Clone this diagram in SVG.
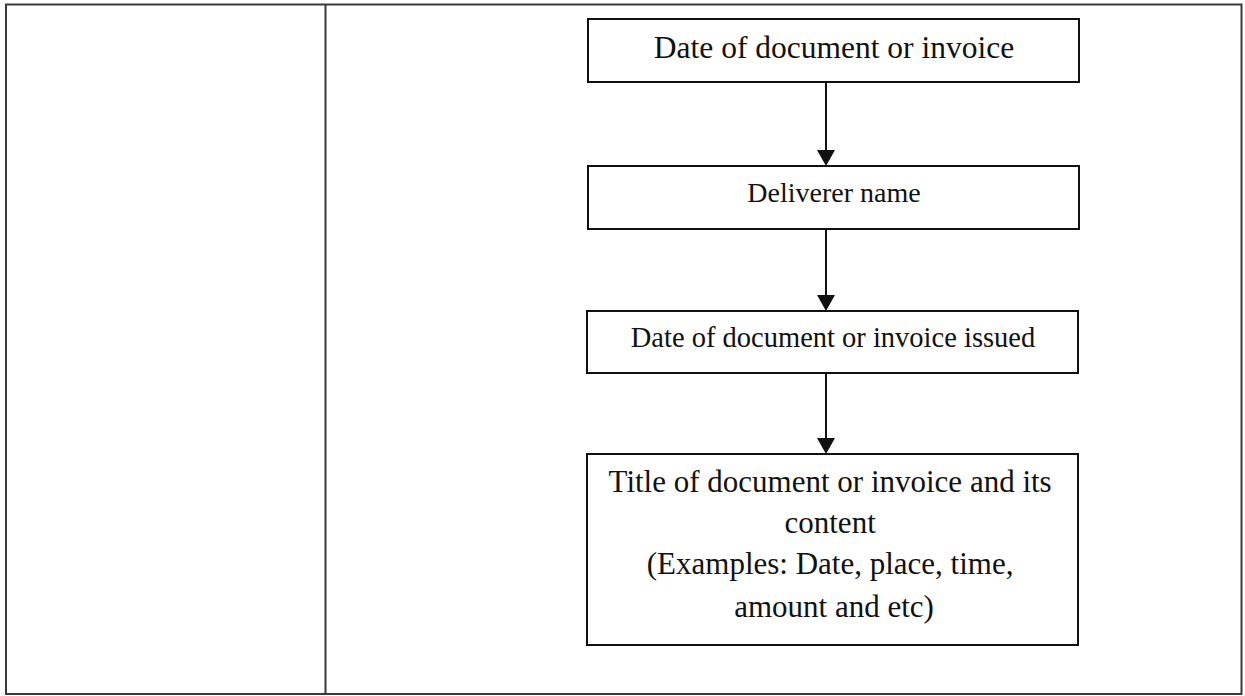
<svg xmlns="http://www.w3.org/2000/svg" width="1245" height="696" viewBox="0 0 1245 696">
  <style>
    .frame { fill: none; stroke: #3a3a3a; stroke-width: 2; }
    .box { fill: #ffffff; stroke: #111111; stroke-width: 2; }
    .label { font-family: "Liberation Serif", "Times New Roman", serif; fill: #111111; text-anchor: middle; }
    .shaft { stroke: #111111; stroke-width: 2; fill: none; }
    .head { fill: #111111; }
  </style>
  <rect width="1245" height="696" fill="#ffffff"/>

  <!-- table frame with two columns -->
  <g id="table">
    <rect class="frame" x="6" y="4.5" width="1235.5" height="689.5"/>
    <line class="frame" x1="325.5" y1="4.5" x2="325.5" y2="694"/>
  </g>

  <!-- connectors: vertical shafts with solid triangular heads -->
  <g id="connectors">
    <path class="shaft" d="M826,82 V150"/>
    <path class="head" d="M817,150 L835,150 L826,166 Z"/>
    <path class="shaft" d="M826,229 V295"/>
    <path class="head" d="M817,295 L835,295 L826,311 Z"/>
    <path class="shaft" d="M826,373 V438"/>
    <path class="head" d="M817,438 L835,438 L826,454 Z"/>
  </g>

  <g id="node-date">
    <rect class="box" x="588" y="19" width="491" height="63"/>
    <text class="label" x="834" y="58" font-size="31.5">Date of document or invoice</text>
  </g>

  <g id="node-deliverer">
    <rect class="box" x="588" y="166" width="491" height="63"/>
    <text class="label" x="834" y="202" font-size="28">Deliverer name</text>
  </g>

  <g id="node-issued">
    <rect class="box" x="587" y="311" width="491" height="62"/>
    <text class="label" x="833" y="347" font-size="28.5">Date of document or invoice issued</text>
  </g>

  <g id="node-title">
    <rect class="box" x="587" y="454" width="491" height="191"/>
    <text class="label" font-size="31">
      <tspan x="834" y="492">Title of document or invoice and its</tspan>
      <tspan x="834" y="533">content</tspan>
      <tspan x="834" y="574">(Examples: Date, place, time,</tspan>
      <tspan x="834" y="617">amount and etc)</tspan>
    </text>
  </g>
</svg>
